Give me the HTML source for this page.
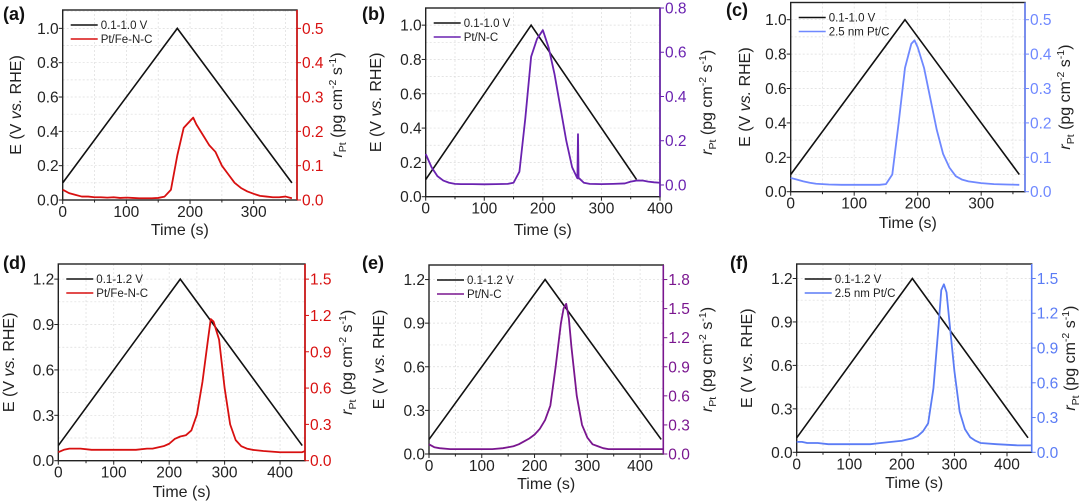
<!DOCTYPE html>
<html><head><meta charset="utf-8">
<style>
html,body{margin:0;padding:0;background:#fff;}
svg{display:block;font-family:"Liberation Sans",Arial,sans-serif;}
</style></head>
<body>
<svg id="fig" width="1080" height="503" viewBox="0 0 1080 503" xmlns="http://www.w3.org/2000/svg"></svg>
<script>
// ---- data (time in s, rate in pg cm^-2 s^-1) ----
const tA=[0,10,20,30,40,50,60,70,80,90,100,110,120,130,140,150,160,170,180,190,200,205,210,220,230,240,250,260,270,280,290,300,310,320,330,340,350,360];
const rA=[0.03,0.02,0.015,0.01,0.01,0.008,0.008,0.007,0.008,0.006,0.007,0.006,0.005,0.005,0.005,0.006,0.01,0.03,0.13,0.21,0.23,0.24,0.22,0.19,0.16,0.14,0.1,0.075,0.05,0.035,0.025,0.018,0.012,0.01,0.008,0.008,0.01,0.005];
const tB=[0,10,20,30,40,50,60,80,100,120,140,150,160,170,180,190,200,210,220,230,240,250,258,259,260,261,262,270,280,300,320,340,350,360,370,380,390,400];
const rB=[0.14,0.08,0.04,0.02,0.01,0.005,0.004,0.004,0.003,0.004,0.005,0.01,0.06,0.3,0.58,0.66,0.7,0.62,0.5,0.35,0.2,0.08,0.035,0.03,0.23,0.03,0.03,0.01,0.005,0.004,0.005,0.007,0.015,0.02,0.02,0.015,0.012,0.01];
const tC=[0,10,20,30,40,60,80,100,120,140,150,160,170,180,190,195,200,210,220,230,240,250,260,270,280,300,320,340,360];
const rC=[0.04,0.035,0.03,0.026,0.023,0.021,0.02,0.02,0.02,0.02,0.022,0.05,0.2,0.36,0.43,0.44,0.42,0.36,0.27,0.18,0.11,0.07,0.045,0.035,0.03,0.025,0.022,0.021,0.02];
const tD=[0,10,20,40,60,80,100,120,140,160,170,180,190,200,210,220,230,240,250,260,270,275,280,290,300,310,320,330,340,350,370,400,420,440,445];
const rD=[0.07,0.09,0.1,0.1,0.09,0.09,0.09,0.09,0.09,0.1,0.1,0.11,0.12,0.14,0.18,0.2,0.21,0.25,0.38,0.65,1.0,1.17,1.15,1.0,0.6,0.3,0.17,0.12,0.1,0.09,0.08,0.07,0.07,0.07,0.08];
const tE=[0,10,20,40,60,80,100,120,140,150,160,170,180,190,200,210,220,230,240,250,255,260,265,270,280,290,300,310,320,330,340,380,420,445];
const rE=[0.1,0.07,0.06,0.05,0.05,0.05,0.05,0.05,0.06,0.07,0.08,0.1,0.13,0.16,0.2,0.26,0.35,0.5,0.9,1.35,1.5,1.55,1.4,1.1,0.6,0.3,0.17,0.1,0.08,0.06,0.05,0.05,0.05,0.05];
const tF=[0,10,20,40,60,80,100,120,140,160,180,200,220,230,240,250,260,270,275,280,285,290,300,310,320,330,340,350,380,420,447];
const rF=[0.09,0.09,0.08,0.08,0.07,0.07,0.07,0.07,0.07,0.08,0.09,0.1,0.12,0.14,0.18,0.25,0.55,1.1,1.4,1.45,1.38,1.15,0.7,0.35,0.2,0.13,0.1,0.08,0.07,0.06,0.06];
const eTimes1=[0,180,360], eVals1=[0.1,1.0,0.1];
const eTimes2=[0,220,440], eVals2=[0.1,1.2,0.1];
const xTicks3=[0,100,200,300], xTicks4=[0,100,200,300,400];
const yTicks10=[0,0.2,0.4,0.6,0.8,1.0], yTicks12=[0,0.3,0.6,0.9,1.2];
const rTicksA=[0,0.1,0.2,0.3,0.4,0.5], rTicksB=[0,0.2,0.4,0.6,0.8], rTicksD=[0,0.3,0.6,0.9,1.2,1.5], rTicksE=[0,0.3,0.6,0.9,1.2,1.5,1.8];

const NS="http://www.w3.org/2000/svg";
const svg=document.getElementById('fig');
function mk(tag,attrs,parent){const e=document.createElementNS(NS,tag);for(const k in attrs)e.setAttribute(k,attrs[k]);(parent||svg).appendChild(e);return e;}

const panels=[
 {id:'a',L:62.7,R:297,T:10,B:200,x1:368,y1:1.107,r0:0,r1:0.5535,xt:xTicks3,yt:yTicks10,rt:rTicksA,t:tA,r:rA,et:eTimes1,ev:eVals1,col:'#d81010',v:'0.1-1.0 V',name:'Pt/Fe-N-C',lab:[3,20],ylx:21,rlx:337,xly:235},
 {id:'b',L:425.7,R:660,T:8,B:196.7,x1:400,y1:1.1,r0:-0.053,r1:0.8,xt:xTicks4,yt:yTicks10,rt:rTicksB,t:tB,r:rB,et:eTimes1,ev:eVals1,col:'#6a22b0',v:'0.1-1.0 V',name:'Pt/N-C',lab:[362,20],ylx:381,rlx:707,xly:235},
 {id:'c',L:790.7,R:1025,T:2.5,B:191.7,x1:369,y1:1.1,r0:0,r1:0.55,xt:xTicks3,yt:yTicks10,rt:rTicksA,t:tC,r:rC,et:eTimes1,ev:eVals1,col:'#6f88ff',v:'0.1-1.0 V',name:'2.5 nm Pt/C',lab:[726,16],ylx:750,rlx:1065,xly:228},
 {id:'d',L:58.3,R:305,T:264,B:460.7,x1:445,y1:1.3,r0:0,r1:1.625,xt:xTicks4,yt:yTicks12,rt:rTicksD,t:tD,r:rD,et:eTimes2,ev:eVals2,col:'#d81010',v:'0.1-1.2 V',name:'Pt/Fe-N-C',lab:[3,269],ylx:14,rlx:347,xly:497},
 {id:'e',L:429,R:663.3,T:265,B:454,x1:444,y1:1.3,r0:0,r1:1.95,xt:xTicks4,yt:yTicks12,rt:rTicksE,t:tE,r:rE,et:eTimes2,ev:eVals2,col:'#7a168f',v:'0.1-1.2 V',name:'Pt/N-C',lab:[362,269],ylx:384,rlx:707,xly:489},
 {id:'f',L:796.7,R:1031.7,T:264,B:452.3,x1:447,y1:1.3,r0:0,r1:1.625,xt:xTicks4,yt:yTicks12,rt:rTicksD,t:tF,r:rF,et:eTimes2,ev:eVals2,col:'#5b7cf5',v:'0.1-1.2 V',name:'2.5 nm Pt/C',lab:[730,269],ylx:752,rlx:1070,xly:488}
];

panels.forEach(p=>{
 const g=mk('g',{});
 
 
 const X=t=>p.L+(t/p.x1)*(p.R-p.L);
 const Y=v=>p.B-(v/p.y1)*(p.B-p.T);
 const YR=v=>p.B-((v-p.r0)/(p.r1-p.r0))*(p.B-p.T);
 const grid=mk('g',{stroke:'#dcdcdc','stroke-width':0.7,'stroke-dasharray':'2,2'},g);
 
 
 for(let t=50;t<p.x1;t+=50){mk('line',{x1:X(t),x2:X(t),y1:p.T,y2:p.B},grid);}
 const ystep=(p.yt[1]-p.yt[0])/2;
 for(let v=ystep;v<p.y1-1e-6;v+=ystep){mk('line',{x1:p.L,x2:p.R,y1:Y(v),y2:Y(v)},grid);}
 const fr=mk('rect',{x:p.L,y:p.T,width:p.R-p.L,height:p.B-p.T,fill:'none',stroke:'#222','stroke-width':1.4},g);
 
 
 const ra=mk('line',{x1:p.R,x2:p.R,y1:p.T,y2:p.B,stroke:p.col,'stroke-width':1.6},g);
 
 
 for(let t=0;t<=p.x1;t+=50){const major=t%100===0;mk('line',{x1:X(t),x2:X(t),y1:p.B,y2:p.B+(major?4:2.5),stroke:'#222','stroke-width':1},g);}
 p.xt.forEach(t=>{const e=mk('text',{x:X(t),y:p.B+17,'text-anchor':'middle','font-size':15.5,fill:'#222'},g);e.textContent=t;
  
  });
 p.yt.forEach(v=>{mk('line',{x1:p.L-4,x2:p.L,y1:Y(v),y2:Y(v),stroke:'#222','stroke-width':1},g);
  const e=mk('text',{x:p.L-4,y:Y(v)+5.5,'text-anchor':'end','font-size':15.5,fill:'#222'},g);e.textContent=v.toFixed(1);
  
  });
 p.rt.forEach(v=>{mk('line',{x1:p.R,x2:p.R+4,y1:YR(v),y2:YR(v),stroke:p.col,'stroke-width':1},g);
  const e=mk('text',{x:p.R+5,y:YR(v)+5.5,'text-anchor':'start','font-size':15.5,fill:p.col},g);e.textContent=v.toFixed(1);
  
  });
 const tri=mk('polyline',{points:p.et.map((t,i)=>X(t)+','+Y(p.ev[i])).join(' '),fill:'none',stroke:'#111','stroke-width':1.6},g);
 
 
 const rl=mk('polyline',{points:p.t.map((t,i)=>X(t)+','+YR(p.r[i])).join(' '),fill:'none',stroke:p.col,'stroke-width':1.8,'stroke-linejoin':'round'},g);
 
 
 const lg=mk('g',{},g);
 
 
 const lx=p.L+8, ly=p.T+15;
 mk('line',{x1:lx,x2:lx+27,y1:ly,y2:ly,stroke:'#111','stroke-width':1.4},lg);
 let e=mk('text',{x:lx+30,y:ly+4,'font-size':11.5,fill:'#222'},lg);e.textContent=p.v;
 
 
 mk('line',{x1:lx,x2:lx+27,y1:ly+14,y2:ly+14,stroke:p.col,'stroke-width':1.4},lg);
 e=mk('text',{x:lx+30,y:ly+18,'font-size':11.5,fill:'#222'},lg);e.textContent=p.name;
 
 
 e=mk('text',{x:p.lab[0],y:p.lab[1],'font-size':18,'font-weight':'bold',fill:'#111'},g);e.textContent='('+p.id+')';
 
 
 e=mk('text',{x:(p.L+p.R)/2,y:p.xly,'text-anchor':'middle','font-size':16,fill:'#222'},g);e.textContent='Time (s)';
 
 
 const cy=(p.T+p.B)/2;
 e=mk('text',{x:p.ylx,y:cy,'text-anchor':'middle','font-size':16,fill:'#222',transform:'rotate(-90 '+p.ylx+' '+cy+')'},g);
 e.innerHTML='E (V <tspan font-style="italic">vs.</tspan> RHE)';
 
 
 e=mk('text',{x:p.rlx+5,y:cy,'text-anchor':'middle','font-size':16,fill:'#222',transform:'rotate(-90 '+(p.rlx+5)+' '+cy+')'},g);
 e.innerHTML='<tspan font-style="italic">r</tspan><tspan font-size="10.5" dy="4">Pt</tspan><tspan dy="-4"> (pg cm</tspan><tspan font-size="10.5" dy="-6">-2</tspan><tspan dy="6"> s</tspan><tspan font-size="10.5" dy="-6">-1</tspan><tspan dy="6">)</tspan>';
 
 
});
</script>
</body></html>
